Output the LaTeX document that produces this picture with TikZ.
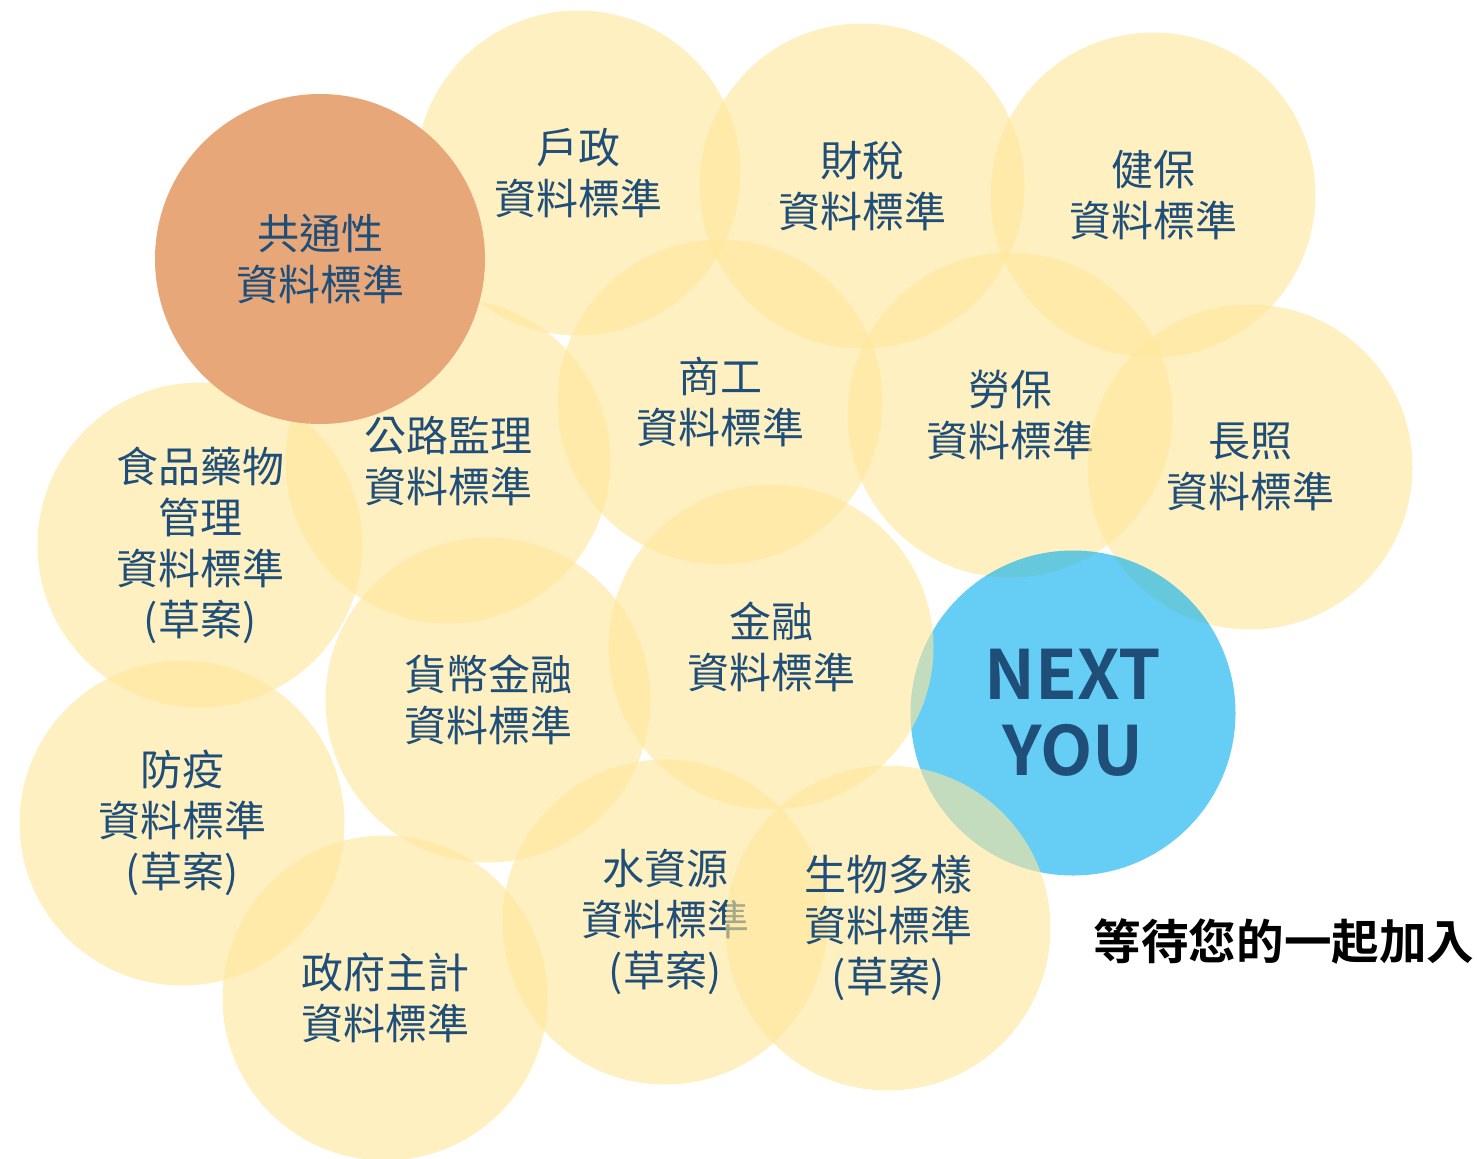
\documentclass[tikz,border=0pt]{standalone}
\usepackage{fontspec}
\setmainfont{Noto Sans CJK TC}[BoldFont=* Bold]
\definecolor{bub}{HTML}{FFE699}
\definecolor{txt}{HTML}{1F4E79}
\definecolor{orng}{HTML}{E8A779}
\definecolor{cyanb}{HTML}{00ADED}
\tikzset{
  bubble/.style={circle, minimum size=162.5pt, inner sep=0pt, fill=bub, fill opacity=0.6, text opacity=1,
    text=txt, align=center, font=\fontsize{21pt}{25.5pt}\selectfont},
  keybubble/.style={bubble, minimum size=165pt, fill=orng, fill opacity=1},
  nextbubble/.style={bubble, fill=cyanb, fill opacity=0.6, font=\bfseries\fontsize{34pt}{38pt}\selectfont},
  note/.style={font=\bfseries\fontsize{23.8pt}{28pt}\selectfont, text=black, inner sep=0pt}
}
\begin{document}
\begin{tikzpicture}[x=0.5pt, y=-0.5pt]
\useasboundingbox (0,0) rectangle (1477,1158);
\node[bubble] (huzheng) at (578,173) {戶政\\資料標準};
\node[bubble] (caishui) at (862,186) {財稅\\資料標準};
\node[bubble] (jianbao) at (1153,195) {健保\\資料標準};
\node[bubble] (shanggong) at (720,402) {商工\\資料標準};
\node[bubble] (laobao) at (1010,415) {勞保\\資料標準};
\node[bubble] (changzhao) at (1250,467) {長照\\資料標準};
\node[nextbubble] (next) at (1073,713) {NEXT\\YOU};
\node[bubble] (gonglu) at (448,461) {公路監理\\資料標準};
\node[bubble] (shipin) at (200,545) {食品藥物\\管理\\資料標準\\(草案)};
\node[bubble] (jinrong) at (771,647) {金融\\資料標準};
\node[bubble] (huobi) at (488,700) {貨幣金融\\資料標準};
\node[bubble] (fangyi) at (182,823) {防疫\\資料標準\\(草案)};
\node[bubble] (zhuji) at (385,998) {政府主計\\資料標準};
\node[bubble] (shuiziyuan) at (665,922) {水資源\\資料標準\\(草案)};
\node[bubble] (shengwu) at (888,928) {生物多樣\\資料標準\\(草案)};
\node[keybubble] (gongtong) at (320,259) {共通性\\資料標準};
\node[note] (wait) at (1284,941) {等待您的一起加入};
\end{tikzpicture}
\end{document}
